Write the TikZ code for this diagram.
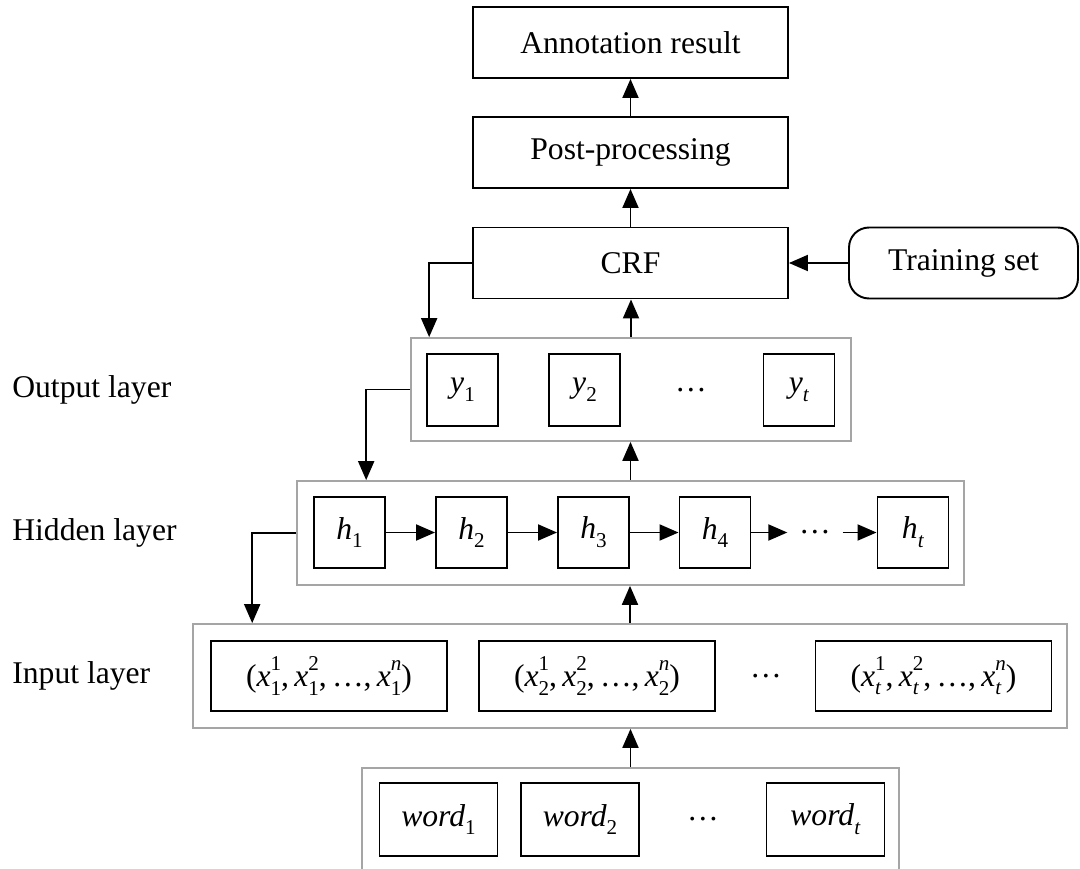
\documentclass[tikz,border=0pt]{standalone}
\usepackage{fontspec}
\setmainfont{Liberation Serif}
\usetikzlibrary{arrows.meta, positioning}
\definecolor{FrameGray}{RGB}{165,165,165}

% lowered / raised indices set in text
\newcommand{\lsub}[1]{\raisebox{-0.28em}{\fontsize{12}{12}\selectfont #1}}
\newcommand{\lsup}[1]{\raisebox{0.48em}{\fontsize{12}{12}\selectfont #1}}
\newcommand{\xvec}[2]{\textit{x}\ooalign{\lsup{#1}\cr\lsub{#2}}}

\begin{document}
\begin{tikzpicture}[x=0.02cm, y=-0.02cm,
    font=\fontsize{18}{21}\selectfont,
    box/.style={draw, line width=1.1pt, inner sep=0pt},
    frame/.style={draw=FrameGray, line width=1pt, inner sep=0pt},
    arr/.style={line width=1.1pt, -{Triangle[length=0.38cm, width=0.32cm]}}]
            % Fixed page size
            \path[use as bounding box] (0,0) rectangle (1080,869);

            % Top pipeline
            \node[box, minimum width=6.3cm, minimum height=1.42cm] (ann) at (630.5,42.5) {Annotation result};
            \node[box, minimum width=6.3cm, minimum height=1.42cm] (post) at (630.5,152.5) {Post-processing};
            \node[box, minimum width=6.3cm, minimum height=1.42cm] (crf) at (630.5,263) {CRF};
            \node[box, rounded corners=0.4cm, minimum width=4.58cm, minimum height=1.42cm] (train) at (963.5,263) {Training set};

            % Layer frames
            \node[frame, minimum width=8.8cm, minimum height=2.06cm] (outframe) at (631,389.5) {};
            \node[frame, minimum width=13.34cm, minimum height=2.08cm] (hidframe) at (630.5,533) {};
            \node[frame, minimum width=17.48cm, minimum height=2.08cm] (inframe) at (630,676) {};
            \node[frame, minimum width=10.74cm, minimum height=2.48cm] (wordframe) at (630.5,830) {};

            % Layer names
            \node[anchor=west, inner sep=0pt] (outlbl) at (12,390) {Output layer};
            \node[anchor=west, inner sep=0pt] (hidlbl) at (12,533) {Hidden layer};
            \node[anchor=west, inner sep=0pt] (inlbl) at (12,676) {Input layer};

            % Output layer
            \node[box, minimum width=1.42cm, minimum height=1.44cm] (y1) at (462.5,390) {\textit{y}\lsub{1}};
            \node[box, minimum width=1.42cm, minimum height=1.44cm] (y2) at (584.5,390) {\textit{y}\lsub{2}};
            \node (ydots) at (691,390) {…};
            \node[box, minimum width=1.42cm, minimum height=1.44cm] (yt) at (799,390) {\textit{y}\lsub{\textit{t}}};

            % Hidden layer
            \node[box, minimum width=1.42cm, minimum height=1.42cm] (h1) at (349.5,532.5) {\textit{h}\lsub{1}};
            \node[box, minimum width=1.42cm, minimum height=1.42cm] (h2) at (471.5,532.5) {\textit{h}\lsub{2}};
            \node[box, minimum width=1.42cm, minimum height=1.42cm] (h3) at (593.5,532.5) {\textit{h}\lsub{3}};
            \node[box, minimum width=1.42cm, minimum height=1.42cm] (h4) at (715,532.5) {\textit{h}\lsub{4}};
            \node[inner xsep=0.23cm] (hdots) at (815,532.5) {…};
            \node[box, minimum width=1.42cm, minimum height=1.42cm] (ht) at (913,532.5) {\textit{h}\lsub{\textit{t}}};

            % Input layer
            \node[box, minimum width=4.72cm, minimum height=1.4cm] (x1) at (329,676)
                {(\xvec{1}{1},\,\xvec{2}{1},\,…,\,\xvec{\textit{n}}{1})};
            \node[box, minimum width=4.72cm, minimum height=1.4cm] (x2) at (597,676)
                {(\xvec{1}{2},\,\xvec{2}{2},\,…,\,\xvec{\textit{n}}{2})};
            \node (xdots) at (766,676) {…};
            \node[box, minimum width=4.72cm, minimum height=1.4cm] (xt) at (933.5,676)
                {(\xvec{1}{\textit{t}},\,\xvec{2}{\textit{t}},\,…,\,\xvec{\textit{n}}{\textit{t}})};

            % Words
            \node[box, minimum width=2.36cm, minimum height=1.46cm] (w1) at (438.5,819.5) {\textit{word}\lsub{1}};
            \node[box, minimum width=2.36cm, minimum height=1.46cm] (w2) at (580,819.5) {\textit{word}\lsub{2}};
            \node (wdots) at (703,819.5) {…};
            \node[box, minimum width=2.36cm, minimum height=1.46cm] (wt) at (825.5,819.5) {\textit{word}\lsub{\textit{t}}};

            % Upward flow
            \draw[arr] (post) -- (ann);
            \draw[arr] (crf) -- (post);
            \draw[arr] (train) -- (crf);
            \draw[arr] (outframe.north) -- (outframe.north |- crf.south);
            \draw[arr] (hidframe.north) -- (hidframe.north |- outframe.south);
            \draw[arr] (inframe.north) -- (inframe.north |- hidframe.south);
            \draw[arr] (wordframe.north) -- (wordframe.north |- inframe.south);

            % Feedback on the left side
            \draw[arr] (crf.west) -| ([xshift=0.38cm]outframe.north west);
            \draw[arr] (outframe.west) -| ([xshift=1.4cm]hidframe.north west);
            \draw[arr] (hidframe.west) -| ([xshift=1.2cm]inframe.north west);

            % Recurrent chain
            \foreach \a/\b in {h1/h2, h2/h3, h3/h4, h4/hdots, hdots/ht}
                \draw[arr] (\a) -- (\b);
        \end{tikzpicture}
\end{document}
